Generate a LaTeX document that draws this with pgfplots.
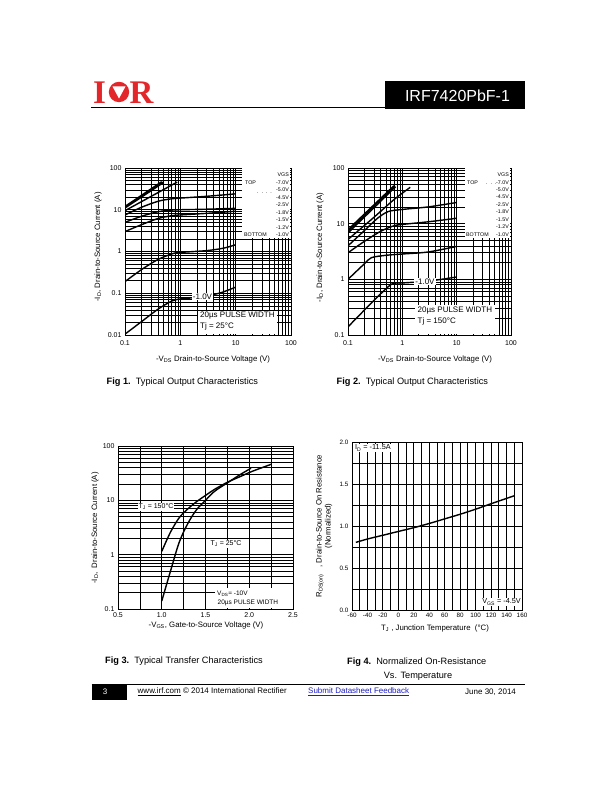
\documentclass[border=0pt]{standalone}
\usepackage{pgfplots}
\pgfplotsset{compat=1.18}
\usepackage{fontspec}
\setmainfont{Liberation Sans}
\newfontfamily\serifb{Liberation Serif}
\definecolor{irred}{RGB}{226,38,42}
\definecolor{linkblue}{RGB}{30,30,190}
\newcommand\fs[1]{\fontsize{#1}{#1}\selectfont}
\pgfplotsset{
 dsbase/.style={scale only axis, anchor=south west,
   axis line style={line width=0.9pt},
   major tick length=0pt, minor tick length=0pt,
   grid=both,
   major grid style={black,line width=0.8pt},
   minor grid style={black,line width=0.6pt},
   tick label style={font=\fs{7}},
   /pgf/number format/assume math mode=true,
   clip=true},
 crv/.style={black, line width=1.4pt, no marks, smooth},
}
\begin{document}
\begin{tikzpicture}
\path[use as bounding box] (0pt,0pt) rectangle (612pt,792pt);

% ---------------- Fig 1 ----------------
\begin{axis}[dsbase, at={(125pt,457pt)}, width=166pt, height=167pt,
  xmode=log, ymode=log, xmin=0.1, xmax=100, ymin=0.01, ymax=100,
  xtick={0.1,1,10,100}, xticklabels={0.1,1,10,100},
  ytick={0.01,0.1,1,10,100}, yticklabels={0.01,0.1,1,10,100},
  minor xtick={0.2,0.3,0.4,0.5,0.6,0.7,0.8,0.9,2,3,4,5,6,7,8,9,20,30,40,50,60,70,80,90},
  minor ytick={0.02,0.03,0.04,0.05,0.06,0.07,0.08,0.09,0.2,0.3,0.4,0.5,0.6,0.7,0.8,0.9,2,3,4,5,6,7,8,9,20,30,40,50,60,70,80,90},
  extra y ticks={10}, extra y tick labels={}, extra y tick style={grid style={black,line width=2pt}},
  xticklabel style={yshift=-2pt}]
\addplot[crv] coordinates {(0.1,0.0105)(0.2,0.021)(0.4,0.042)(0.7,0.065)(1,0.073)(2,0.08)(5,0.1)(10,0.14)};
\addplot[crv] coordinates {(0.1,0.19)(0.2,0.37)(0.4,0.65)(0.75,0.9)(1,0.95)(3,1.05)(6,1.2)(10,1.45)};
\addplot[crv] coordinates {(0.1,3)(0.2,4.4)(0.4,6.2)(0.7,7.2)(1,7.5)(3,8.2)(10,9.2)};
\addplot[crv] coordinates {(0.1,5)(0.2,7)(0.4,9)(0.7,9.8)(1,10)(3,10.3)(10,10.8)};
\addplot[crv] coordinates {(0.1,7.5)(0.2,11.5)(0.4,16)(0.7,18.3)(1,19)(3,21)(10,24)};
\addplot[crv] coordinates {(0.1,9.5)(0.88,46)};
\addplot[crv] coordinates {(0.1,11)(0.5,45)};
\addplot[crv] coordinates {(0.1,11.5)(0.48,46)};
\addplot[crv] coordinates {(0.1,12)(0.46,47)};
\end{axis}

% ---------------- Fig 2 ----------------
\begin{axis}[dsbase, at={(348pt,457pt)}, width=163pt, height=167pt,
  xmode=log, ymode=log, xmin=0.1, xmax=100, ymin=0.1, ymax=100,
  xtick={0.1,1,10,100}, xticklabels={0.1,1,10,100},
  ytick={0.1,1,10,100}, yticklabels={0.1,1,10,100},
  minor xtick={0.2,0.3,0.4,0.5,0.6,0.7,0.8,0.9,2,3,4,5,6,7,8,9,20,30,40,50,60,70,80,90},
  minor ytick={0.2,0.3,0.4,0.5,0.6,0.7,0.8,0.9,2,3,4,5,6,7,8,9,20,30,40,50,60,70,80,90},
  extra y ticks={1}, extra y tick labels={}, extra y tick style={grid style={black,line width=2pt}},
  xticklabel style={yshift=-2pt}]
\addplot[crv] coordinates {(0.1,0.14)(0.2,0.28)(0.4,0.55)(0.65,0.83)(1,0.86)(3,0.93)(10,1.1)};
\addplot[crv] coordinates {(0.1,1.0)(0.2,1.9)(0.27,2.45)(0.5,2.7)(1,2.85)(3,3.1)(10,3.9)};
\addplot[crv] coordinates {(0.1,3)(0.2,4.8)(0.4,7.3)(0.73,9.3)(1,9.7)(3,10.8)(10,12.5)};
\addplot[crv] coordinates {(0.1,4)(0.2,7.5)(0.35,12.5)(0.55,16.5)(1,18)(3,20)(10,24)};
\addplot[crv] coordinates {(0.1,5.2)(0.3,13)(0.7,27)(1.4,45)};
\addplot[crv] coordinates {(0.1,6.8)(0.75,46)};
\addplot[crv] coordinates {(0.1,7.3)(0.72,47)};
\addplot[crv] coordinates {(0.1,7.8)(0.7,48)};
\end{axis}

% ---------------- Fig 3 ----------------
\begin{axis}[dsbase, at={(118pt,183pt)}, width=175pt, height=163pt,
  ymode=log, xmin=0.5, xmax=2.5, ymin=0.1, ymax=100,
  xtick={0.5,1,1.5,2,2.5}, xticklabels={0.5,1.0,1.5,2.0,2.5},
  minor xtick={0.75,1.25,1.75,2.25},
  ytick={0.1,1,10,100}, yticklabels={0.1,1,10,100},
  minor ytick={0.2,0.3,0.4,0.5,0.6,0.7,0.8,0.9,2,3,4,5,6,7,8,9,20,30,40,50,60,70,80,90},
  major grid style={black,line width=0.7pt}, minor grid style={black,line width=0.6pt}]
\addplot[crv] coordinates {(1.0,1.15)(1.1,2.6)(1.2,4.8)(1.3,7)(1.4,9.5)(1.5,12.3)(1.6,15.8)(1.75,21.5)(1.9,27.5)(2.0,32.5)(2.1,37.5)(2.25,46)};
\addplot[crv] coordinates {(1.0,0.14)(1.1,0.5)(1.2,1.7)(1.3,3.8)(1.4,6.8)(1.5,10)(1.6,14.5)(1.75,21)(1.9,30)(2.02,39)};
\end{axis}

% ---------------- Fig 4 ----------------
\begin{axis}[dsbase, at={(352pt,182pt)}, width=170pt, height=168pt,
  xmin=-60, xmax=160, ymin=0, ymax=2,
  xtick={-60,-40,...,160}, xticklabels={-60,-40,-20,0,20,40,60,80,100,120,140,160},
  minor xtick={-50,-30,...,150},
  ytick={0,0.5,1,1.5,2}, yticklabels={0.0,0.5,1.0,1.5,2.0},
  minor ytick={0.25,0.75,1.25,1.75},
  major grid style={black,line width=0.9pt}, minor grid style={black,line width=0.9pt},
  extra y ticks={0.5}, extra y tick labels={}, extra y tick style={grid style={black,line width=2pt}},
  tick label style={font=\fs{6.3}}]
\addplot[crv] coordinates {(-55,0.805)(-40,0.845)(-20,0.89)(0,0.935)(20,0.98)(40,1.03)(60,1.085)(80,1.14)(100,1.2)(120,1.265)(150,1.36)};
\end{axis}

% ---------------- overlay text (image coordinates, y down) ----------------
\begin{scope}[shift={(0pt,792pt)}, x=1pt, y=-1pt]
% header
\node[text=irred, font=\serifb\bfseries\fs{33}, inner sep=0] at (99.5,93) {I};
\fill[irred] (119,92) circle (10.2);
\fill[white] (112.5,86.5) -- (125.5,86.5) -- (119,98.5) -- cycle;
\node[text=irred, font=\serifb\bfseries\fs{33}, inner sep=0] at (141.5,93) {R};
\draw[line width=1.6pt] (91,107.7) -- (386,107.7);
\fill[black] (385,81) rectangle (525,109.5);
\node[text=white, font=\fs{16}, inner sep=0] at (457.5,95.5) {IRF7420PbF-1};

% Fig 1 annotations
\fill[white] (242,168.5) rectangle (290.4,238.5);
\begin{scope}[font=\fs{5.3}, inner sep=0]
\node[anchor=east] at (289,175) {VGS};
\node[anchor=west] at (245,183) {TOP};
\node[anchor=east] at (289,183) {-7.0V};
\node[anchor=east] at (289,190) {-5.0V};
\node[anchor=west] at (257,193) {.\ \ .\ \ .\ \ .};
\node[anchor=east] at (289,197.5) {-4.5V};
\node[anchor=east] at (289,205) {-2.5V};
\node[anchor=east] at (289,212.5) {-1.8V};
\node[anchor=east] at (289,220) {-1.5V};
\node[anchor=east] at (289,227.5) {-1.2V};
\node[anchor=west] at (244,235) {BOTTOM};
\node[anchor=east] at (289,235) {-1.0V};
\end{scope}
\node[fill=white, inner sep=1pt, font=\fs{8}] at (202.5,296.5) {-1.0V};
\fill[white] (198,311) rectangle (277,334.5);
\node[anchor=west, font=\fs{8}, inner sep=0] at (200,316) {20µs PULSE WIDTH};
\node[anchor=west, font=\fs{8}, inner sep=0] at (200,326) {Tj = 25°C};
\node[rotate=90, font=\fs{7.8}] at (98,247) {-I\textsubscript{D}, Drain-to-Source Current (A)};
\node[font=\fs{7.8}] at (213,359) {-V\textsubscript{DS} Drain-to-Source Voltage (V)};
\node[anchor=west, inner sep=0, font=\fs{9.2}] at (106.5,382) {\textbf{Fig 1.}\ \ Typical Output Characteristics};

% Fig 2 annotations
\fill[white] (465,168.5) rectangle (510.4,238.5);
\begin{scope}[font=\fs{5.3}, inner sep=0]
\node[anchor=east] at (509,174.5) {VGS};
\node[anchor=west] at (467,183) {TOP};
\node[anchor=west] at (486,184) {.\ \ .\ \ .};
\node[anchor=east] at (509,183) {-7.0V};
\node[anchor=east] at (509,189.5) {-5.0V};
\node[anchor=east] at (509,197) {-4.5V};
\node[anchor=east] at (509,204.5) {-2.5V};
\node[anchor=east] at (509,212) {-1.8V};
\node[anchor=east] at (509,219.5) {-1.5V};
\node[anchor=east] at (509,227) {-1.2V};
\node[anchor=west] at (466,234.5) {BOTTOM};
\node[anchor=east] at (509,234.5) {-1.0V};
\end{scope}
\node[fill=white, inner sep=1pt, font=\fs{8}] at (425,281.5) {-1.0V};
\fill[white] (415,305.5) rectangle (495,334.5);
\node[anchor=west, font=\fs{8}, inner sep=0] at (417.5,311) {20µs PULSE WIDTH};
\node[anchor=west, font=\fs{8}, inner sep=0] at (417.5,321) {Tj = 150°C};
\node[rotate=90, font=\fs{7.8}] at (320,247.5) {-I\textsubscript{D}, Drain-to-Source Current (A)};
\node[font=\fs{7.8}] at (435,359) {-V\textsubscript{DS} Drain-to-Source Voltage (V)};
\node[anchor=west, inner sep=0, font=\fs{9.2}] at (336.5,382) {\textbf{Fig 2.}\ \ Typical Output Characteristics};

% Fig 3 annotations
\node[fill=white, inner sep=1pt, font=\fs{7}] at (156,507) {T\textsubscript{J} = 150°C};
\node[fill=white, inner sep=1pt, font=\fs{7}] at (226,544) {T\textsubscript{J} = 25°C};
\fill[white] (215,588) rectangle (292.5,608.5);
\node[anchor=west, font=\fs{6.5}, inner sep=0] at (217,594) {V\textsubscript{DS}= -10V};
\node[anchor=west, font=\fs{6.5}, inner sep=0] at (217.5,603) {20µs PULSE WIDTH};
\node[rotate=90, font=\fs{7.8}] at (95,528) {-I\textsubscript{D},\ \ Drain-to-Source Current (A)};
\node[font=\fs{7.8}] at (206,625) {-V\textsubscript{GS}, Gate-to-Source Voltage (V)};
\node[anchor=west, inner sep=0, font=\fs{9.2}] at (105,661) {\textbf{Fig 3.}\ \ Typical Transfer Characteristics};

% Fig 4 annotations
\node[anchor=west, fill=white, inner sep=1pt, font=\fs{7.3}] at (354,448) {I\textsubscript{D} = -11.5A};
\node[anchor=east, fill=white, inner sep=1pt, font=\fs{7.3}] at (522,602) {V\textsubscript{GS} = -4.5V};
\node[rotate=90, font=\fs{7.8}, align=center] at (324,526) {R\textsubscript{DS(on)}\ \ \ , Drain-to-Source On Resistance\\(Normalized)};
\node[font=\fs{7.8}] at (435,628) {T\textsubscript{J} , Junction Temperature\ \ (°C)};
\node[anchor=west, inner sep=0, font=\fs{9.2}] at (347,662) {\textbf{Fig 4.}\ \ Normalized On-Resistance};
\node[font=\fs{9.2}] at (418,676) {Vs. Temperature};

% footer
\draw[line width=0.8pt] (91.5,684.4) -- (525,684.4);
\fill[black] (91.5,684) rectangle (127,700);
\node[text=white, font=\fs{8}] at (105,692) {3};
\node[anchor=west, font=\fs{8}, inner sep=0] at (137.5,692) {\underline{www.irf.com} © 2014 International Rectifier};
\node[anchor=west, font=\fs{8}, inner sep=0, text=linkblue] at (308,692) {\underline{Submit Datasheet Feedback}};
\node[anchor=west, font=\fs{8}, inner sep=0] at (465,692) {June 30, 2014};
\end{scope}
\end{tikzpicture}
\end{document}
